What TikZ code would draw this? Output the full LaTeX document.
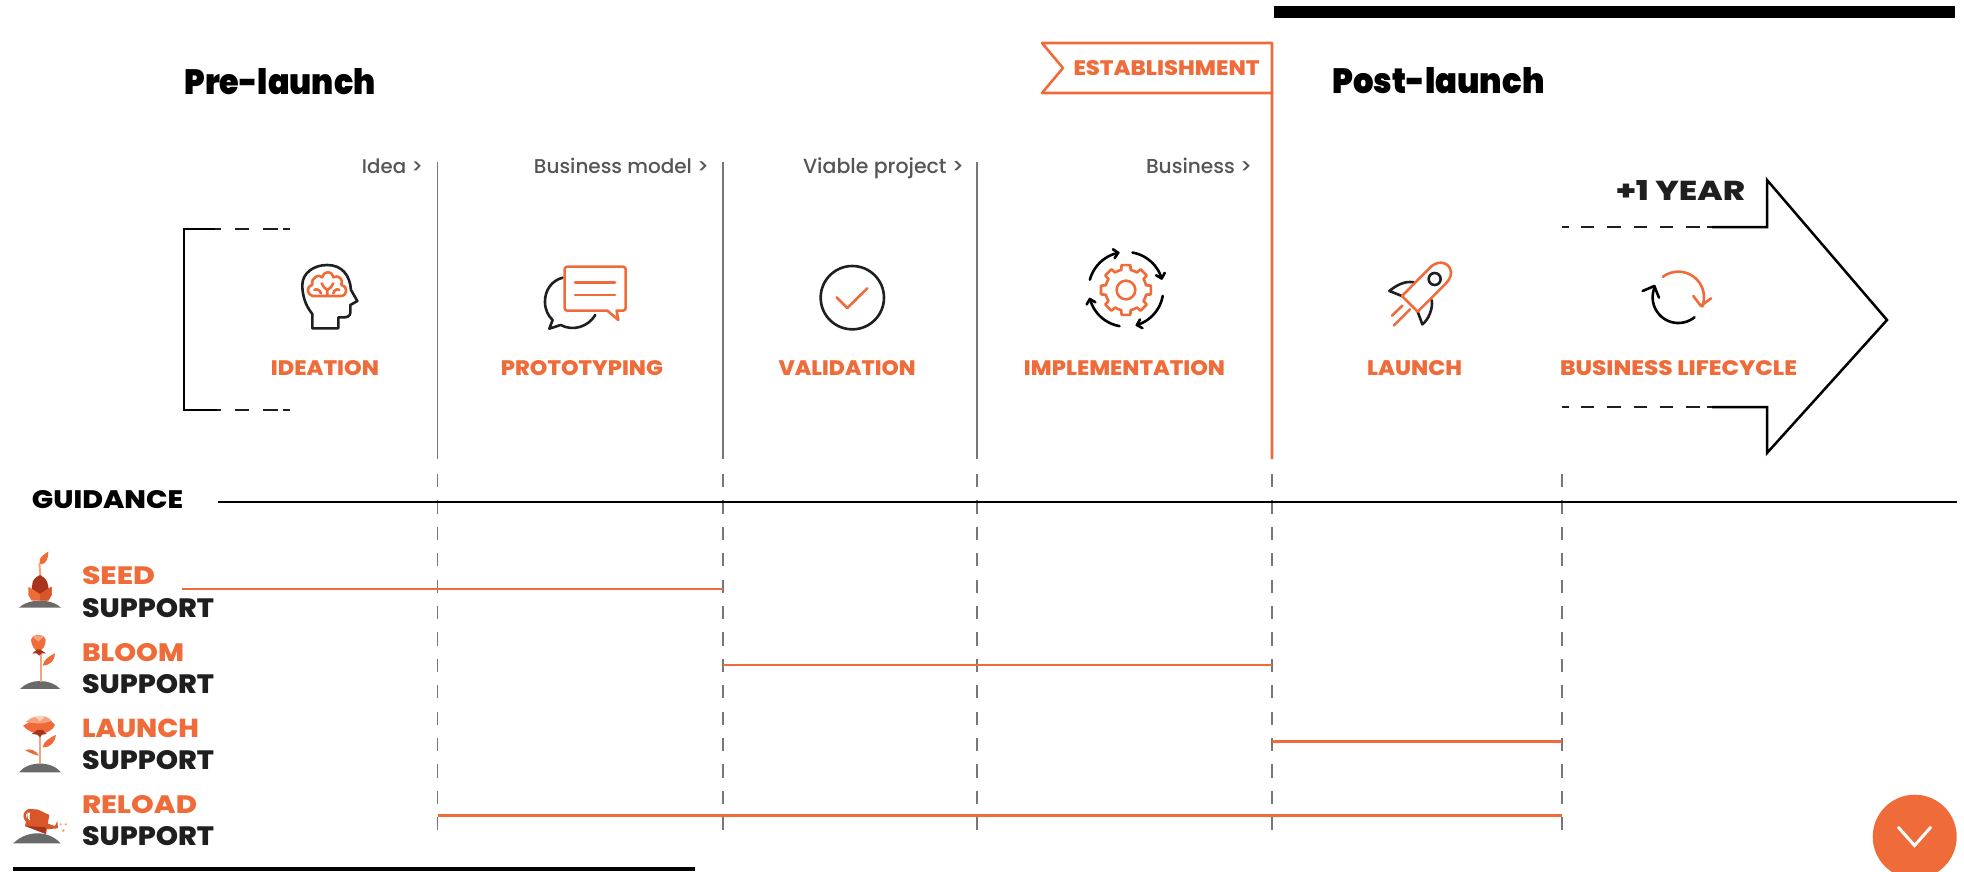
\documentclass[tikz,border=0pt]{standalone}
\usepackage{fontspec}
\usepackage{graphicx}
\usetikzlibrary{arrows.meta}
\setmainfont{Poppins}
\newfontfamily\heavyfont{Poppins}[UprightFont=* Black]
\newfontfamily\capsfont{Poppins}[UprightFont=* ExtraBold]
\newfontfamily\smallfont{Poppins}[UprightFont=* Medium]
\definecolor{org}{HTML}{EF6C3A}
\definecolor{orgdark}{HTML}{A8341C}
\definecolor{orgmid}{HTML}{D9552A}
\definecolor{orglight}{HTML}{F6A27C}
\definecolor{orgpale}{HTML}{FAD2BC}
\definecolor{ink}{HTML}{1F1F1F}
\definecolor{greytext}{HTML}{555555}
\definecolor{rulegrey}{HTML}{777777}
\definecolor{mound}{HTML}{6A6A6A}
\newcommand{\capfit}[3]{\resizebox{#1pt}{#2pt}{\capsfont #3}}
\newcommand{\smallfit}[2]{\resizebox{#1pt}{!}{\smallfont #2}}
\newcommand{\headfit}[3]{\resizebox{#1pt}{#2pt}{\heavyfont #3}}
\tikzset{
  txt/.style={inner sep=0pt,outer sep=0pt},
  orgtxt/.style={txt,text=org},
  inktxt/.style={txt,text=ink},
  smalltxt/.style={txt,text=greytext,anchor=base east},
  solidrule/.style={draw=rulegrey,line width=1.5pt},
  dashrule/.style={draw=rulegrey,line width=1.4pt,dash pattern=on 13.2pt off 13.2pt},
  supportbar/.style={draw=org,line width=2.6pt},
  blackline/.style={draw=black,line width=2.5pt,line join=miter},
  iconk/.style={draw=ink,line width=2.6pt,line cap=round,line join=round},
  icono/.style={draw=org,line width=2.6pt,line cap=round,line join=round},
  zoomA/.style={shift={(270,240)},x=0.3333pt,y=-0.3333pt},
  zoomB/.style={shift={(780,240)},x=0.3333pt,y=-0.3333pt},
  zoomC/.style={shift={(1340,240)},x=0.3333pt,y=-0.3333pt},
  zoomD/.style={shift={(0,520)},x=0.3333pt,y=-0.3333pt},
}
\begin{document}
\begin{tikzpicture}[x=1pt,y=-1pt]
\useasboundingbox (0,0) rectangle (1964,871);
\clip (0,0) rectangle (1964,871);
\fill[white] (0,0) rectangle (1964,871);

% bars
\fill[black] (1274,6) rectangle (1955,18);
\fill[black] (13,867) rectangle (695,871);

% named points
\foreach \n/\x in {a/437.7,b/723,c/977,e/1562}{
  \coordinate (\n top) at (\x,162);
  \coordinate (\n mid) at (\x,459);
}
\foreach \n/\x in {a/437.7,b/723,c/977,d/1272,e/1562}{
  \coordinate (\n dash) at (\x,474);
  \coordinate (\n end) at (\x,833);
}
\coordinate (d top) at (1272,43);
\coordinate (d mid) at (1272,459);

% separators
\foreach \n in {a,b,c}{
  \draw[solidrule] (\n top) -- (\n mid);
}
\foreach \n in {a,b,c,d,e}{
  \draw[dashrule] (\n dash) -- (\n end);
}

% flag
\coordinate (f1) at (1042,43);
\coordinate (f2) at (1063,68);
\coordinate (f3) at (1042,93);
\coordinate (f4) at (1272,93);
\draw[draw=org,line width=2.6pt,line join=round] (d mid) -- (d top) -- (f1) -- (f2) -- (f3) -- (f4);
\node[orgtxt] (est) at (1166.5,68.5) {\capfit{186}{15}{ESTABLISHMENT}};

% headings
\node[txt,text=black] (pre) at (280,82) {\headfit{191}{26}{Pre-launch}};
\node[txt,text=black] (post) at (1438.5,81) {\headfit{212}{26}{Post-launch}};

% step captions
\node[smalltxt] (idea) at (423,173) {\smallfit{61}{Idea >}};
\node[smalltxt] (bm) at (709,173) {\smallfit{175}{Business model >}};
\node[smalltxt] (vp) at (964,173) {\smallfit{161}{Viable project >}};
\node[smalltxt] (biz) at (1252,173) {\smallfit{106}{Business >}};

% bracket
\coordinate (br1) at (215,229);
\coordinate (br2) at (184,229);
\coordinate (br3) at (184,410);
\coordinate (br4) at (217,410);
\coordinate (br1e) at (290,229);
\coordinate (br4e) at (290,410);
\draw[blackline] (br1) -- (br2) -- (br3) -- (br4);
\draw[draw=ink,line width=2.2pt,dash pattern=on 6pt off 14pt on 14pt off 14pt on 15pt off 5pt on 7pt] (br1) -- (br1e);
\draw[draw=ink,line width=2.2pt,dash pattern=on 4pt off 14pt on 14pt off 14pt on 15pt off 5pt on 7pt] (br4) -- (br4e);

% big arrow
\coordinate (ar1) at (1712,227);
\coordinate (ar2) at (1767,227);
\coordinate (ar3) at (1767,180);
\coordinate (ar4) at (1887,320);
\coordinate (ar5) at (1767,453);
\coordinate (ar6) at (1767,407);
\coordinate (ar7) at (1712,407);
\coordinate (ar1s) at (1562,227);
\coordinate (ar7s) at (1562,407);
\draw[blackline] (ar1) -- (ar2) -- (ar3) -- (ar4) -- (ar5) -- (ar6) -- (ar7);
\draw[draw=ink,line width=2.2pt,dash pattern=on 7pt off 12pt on 13.3pt off 13pt on 13.3pt off 13pt on 13.3pt off 13pt on 13.3pt off 13pt on 13.3pt off 7pt on 6pt] (ar1s) -- (ar1);
\draw[draw=ink,line width=2.2pt,dash pattern=on 7pt off 12pt on 13.3pt off 13pt on 13.3pt off 13pt on 13.3pt off 13pt on 13.3pt off 13pt on 13.3pt off 7pt on 6pt] (ar7s) -- (ar7);
\node[inktxt] (year) at (1680.5,190) {\capfit{129}{20}{+1 YEAR}};

% stage labels
\node[orgtxt] (s1) at (325,368.5) {\capfit{108}{15}{IDEATION}};
\node[orgtxt] (s2) at (582,368.5) {\capfit{162}{15}{PROTOTYPING}};
\node[orgtxt] (s3) at (847,368.5) {\capfit{137}{15}{VALIDATION}};
\node[orgtxt] (s4) at (1124.5,368.5) {\capfit{201}{15}{IMPLEMENTATION}};
\node[orgtxt] (s5) at (1414.5,368.5) {\capfit{95}{15}{LAUNCH}};
\node[orgtxt] (s6) at (1678.5,368.5) {\capfit{237}{15}{BUSINESS LIFECYCLE}};

% guidance
\node[txt,text=black] (guid) at (107.5,500) {\capfit{151}{18}{GUIDANCE}};
\coordinate (gl) at (218,502);
\coordinate (gr) at (1957,502);
\draw[draw=black,line width=2.5pt] (gl) -- (gr);

% support labels
\node[orgtxt,anchor=north west] (l1) at (82,566) {\capfit{73}{18}{SEED}};
\node[inktxt,anchor=north west] (l1b) at (82,598.5) {\capfit{132}{19}{SUPPORT}};
\node[orgtxt,anchor=north west] (l2) at (82,643) {\capfit{102}{18}{BLOOM}};
\node[inktxt,anchor=north west] (l2b) at (82,674.5) {\capfit{132}{19}{SUPPORT}};
\node[orgtxt,anchor=north west] (l3) at (82,718.5) {\capfit{117}{18.5}{LAUNCH}};
\node[inktxt,anchor=north west] (l3b) at (82,750.5) {\capfit{132}{19}{SUPPORT}};
\node[orgtxt,anchor=north west] (l4) at (82,795) {\capfit{115}{18}{RELOAD}};
\node[inktxt,anchor=north west] (l4b) at (82,826.5) {\capfit{132}{19}{SUPPORT}};

% support bars
\coordinate (sb1l) at (182,589);
\coordinate (sb1r) at (723,589);
\coordinate (sb2l) at (723,665);
\coordinate (sb2r) at (1272,665);
\coordinate (sb3l) at (1272,741.5);
\coordinate (sb3r) at (1562,741.5);
\coordinate (sb4l) at (437.7,815.5);
\coordinate (sb4r) at (1562,815.5);
\draw[supportbar] (sb1l) -- (sb1r);
\draw[supportbar] (sb2l) -- (sb2r);
\draw[supportbar] (sb3l) -- (sb3r);
\draw[supportbar] (sb4l) -- (sb4r);

% head + brain
\begin{scope}[zoomA]
\draw[iconk] (127,265) -- (127,222) .. controls (105,195) and (97,165) .. (97,135) .. controls (97,100) and (130,75) .. (172,75) .. controls (215,75) and (240,105) .. (243,150) -- (262,183) -- (241,195) -- (241,218) .. controls (241,228) and (232,232) .. (222,232) -- (205,232) -- (205,265) -- cycle;
\draw[icono] (128,168) .. controls (112,165) and (106,140) .. (127,135) .. controls (122,112) and (148,100) .. (156,112) .. controls (165,90) and (185,92) .. (190,112) .. controls (205,103) and (222,118) .. (214,135) .. controls (236,140) and (232,168) .. (212,168) -- cycle;
\draw[icono] (133,150) .. controls (140,145) and (150,150) .. (153,160);
\draw[icono] (172,166) -- (172,150) .. controls (165,145) and (158,140) .. (155,130);
\draw[icono] (172,150) .. controls (180,145) and (186,140) .. (190,130);
\draw[icono] (208,150) .. controls (200,145) and (193,150) .. (190,160);
% speech
\draw[iconk] (878,113) .. controls (845,122) and (825,150) .. (825,185) .. controls (825,210) and (835,228) .. (848,240) -- (838,266) -- (872,255) .. controls (910,275) and (955,260) .. (976,225);
\draw[icono] (892,80) -- (1059,80) .. controls (1064,80) and (1067,83) .. (1067,88) -- (1067,204) .. controls (1067,209) and (1064,212) .. (1059,212) -- (1040,212) -- (1045,240) -- (1012,212) -- (892,212) .. controls (887,212) and (884,209) .. (884,204) -- (884,88) .. controls (884,83) and (887,80) .. (892,80) -- cycle;
\draw[icono] (915,127) -- (1035,127);
\draw[icono] (915,165) -- (1035,165);
\end{scope}

% check + gear
\begin{scope}[zoomB]
\draw[iconk] (217,173) circle [radius=95];
\draw[icono] (170,172) -- (202,204) -- (262,145);
\draw[icono] \foreach \a in {0,45,...,315}{
  ({1038+62*cos(\a-22.5)},{150+62*sin(\a-22.5)}) -- ({1038+62*cos(\a-13)},{150+62*sin(\a-13)}) -- ({1038+76*cos(\a-10)},{150+76*sin(\a-10)}) -- ({1038+76*cos(\a+10)},{150+76*sin(\a+10)}) -- ({1038+62*cos(\a+13)},{150+62*sin(\a+13)}) -- ({1038+62*cos(\a+22.5)},{150+62*sin(\a+22.5)}) } ;
\draw[icono] (1038,150) circle [radius=28];
\foreach \s/\e in {165/100,80/15,-10/-75,-100/-167}{
  \draw[iconk,draw=black,-{Straight Barb[length=4.5pt,width=9pt,line cap=round,round]}] plot[domain=\s:\e,samples=24,smooth] ({1038+112*cos(\x)},{148-112*sin(\x)});
}
\end{scope}

% rocket + cycle
\begin{scope}[zoomC]
\draw[iconk] (222,127) .. controls (195,122) and (170,135) .. (148,153) -- (186,168);
\draw[iconk] (275,180) .. controls (280,205) and (265,240) .. (247,253) -- (233,215);
\draw[icono] (186,168) -- (268,85) .. controls (290,60) and (320,65) .. (330,85) .. controls (338,100) and (330,118) .. (318,130) -- (233,215) -- cycle;
\draw[iconk] (284,117) circle [radius=18];
\draw[icono] (156,227) -- (187,197);
\draw[icono] (162,256) -- (210,208);
\draw[icono] plot[domain=127:-21,samples=30,smooth] ({1015+77*cos(\x)},{172-77*sin(\x)});
\draw[icono] (1060,168) -- (1083,198) -- (1113,175);
\draw[iconk,draw=black] plot[domain=-51:-204,samples=30,smooth] ({1015+77*cos(\x)},{172-77*sin(\x)});
\draw[iconk,draw=black] (908,153) -- (943,138) -- (957,173);
\end{scope}

% plants
\begin{scope}[zoomD]
% seed
\fill[mound] (57,263) .. controls (85,235) and (155,235) .. (183,263) -- cycle;
\draw[draw=orglight,line width=2pt] (122,175) -- (118,130);
\fill[org] (119,130) .. controls (115,112) and (132,103) .. (145,95) .. controls (146,110) and (140,132) .. (124,133) -- cycle;
\fill[orgdark] (95,210) -- (98,185) .. controls (105,172) and (113,168) .. (120,165) .. controls (130,170) and (137,175) .. (142,187) -- (147,210) -- (120,225) -- cycle;
\fill[org] (85,200) -- (120,222) -- (155,200) -- (155,225) -- (145,242) -- (95,242) -- (85,225) -- cycle;
\fill[orgmid] (120,222) -- (155,200) -- (155,225) -- (145,242) -- (120,242) -- cycle;
% bloom
\fill[mound] (60,507) .. controls (90,475) and (150,475) .. (181,507) -- cycle;
\draw[draw=orglight,line width=2pt] (122,485) -- (122,400);
\fill[org] (128,437) .. controls (132,418) and (148,408) .. (165,400) .. controls (165,418) and (155,435) .. (128,437) -- cycle;
\fill[org] (93,360) .. controls (95,350) and (105,345) .. (115,345) .. controls (125,345) and (135,350) .. (137,360) .. controls (137,378) and (128,390) .. (115,395) .. controls (103,390) and (95,378) .. (93,360) -- cycle;
\fill[orglight] (98,350) .. controls (105,345) and (125,345) .. (132,350) -- (115,365) -- cycle;
\fill[orgdark] (97,400) -- (112,388) -- (120,388) -- (138,400) -- (125,400) -- (118,407) -- (110,400) -- cycle;
% launch
\fill[mound] (57,757) .. controls (85,722) and (155,722) .. (183,757) -- cycle;
\draw[draw=orglight,line width=2pt] (120,732) -- (120,645);
\fill[org] (128,682) .. controls (130,665) and (150,652) .. (168,645) .. controls (165,665) and (155,682) .. (128,682) -- cycle;
\fill[org] (117,707) .. controls (105,705) and (90,700) .. (75,690) .. controls (90,685) and (108,690) .. (117,707) -- cycle;
\fill[org] (69,617) .. controls (85,610) and (95,600) .. (105,592) .. controls (120,585) and (135,588) .. (148,597) .. controls (155,605) and (160,610) .. (165,615) .. controls (160,630) and (140,640) .. (120,642) .. controls (100,640) and (80,632) .. (69,617) -- cycle;
\fill[orglight] (78,605) .. controls (100,585) and (135,582) .. (155,602) .. controls (135,612) and (100,612) .. (78,605) -- cycle;
\fill[orgpale] (105,590) .. controls (115,586) and (125,586) .. (135,590) -- (120,603) -- cycle;
\fill[orgdark] (95,642) -- (112,630) -- (128,630) -- (140,642) -- (126,644) -- (120,652) -- (112,644) -- cycle;
% reload
\fill[mound] (40,970) .. controls (80,930) and (145,930) .. (182,970) -- cycle;
\draw[draw=orgmid,line width=2.4pt] (92,888) circle [radius=18];
\fill[orgmid] (85,868) -- (112,868) -- (148,885) -- (138,942) -- (75,918) -- cycle;
\fill[orgdark] (75,918) -- (138,922) -- (138,942) -- cycle;
\fill[orgmid] (140,910) -- (165,918) -- (172,903) -- (174,925) -- (138,928) -- cycle;
\fill[white] (82,885) .. controls (82,878) and (88,875) .. (90,878) .. controls (88,888) and (88,895) .. (90,902) .. controls (84,900) and (82,892) .. (82,885) -- cycle;
\fill[orglight] (182,913) circle [radius=3.5];
\fill[orglight] (197,913) circle [radius=3.5];
\fill[orglight] (190,932) circle [radius=4.5];
\end{scope}

% bottom-right button
\fill[org] (1914.7,836.7) circle [radius=42];
\coordinate (ch1) at (1898.5,827.5);
\coordinate (ch2) at (1914.5,845.5);
\coordinate (ch3) at (1930.5,827.5);
\draw[draw=white,line width=3pt,line cap=round,line join=miter] (ch1) -- (ch2) -- (ch3);
\end{tikzpicture}
\end{document}
